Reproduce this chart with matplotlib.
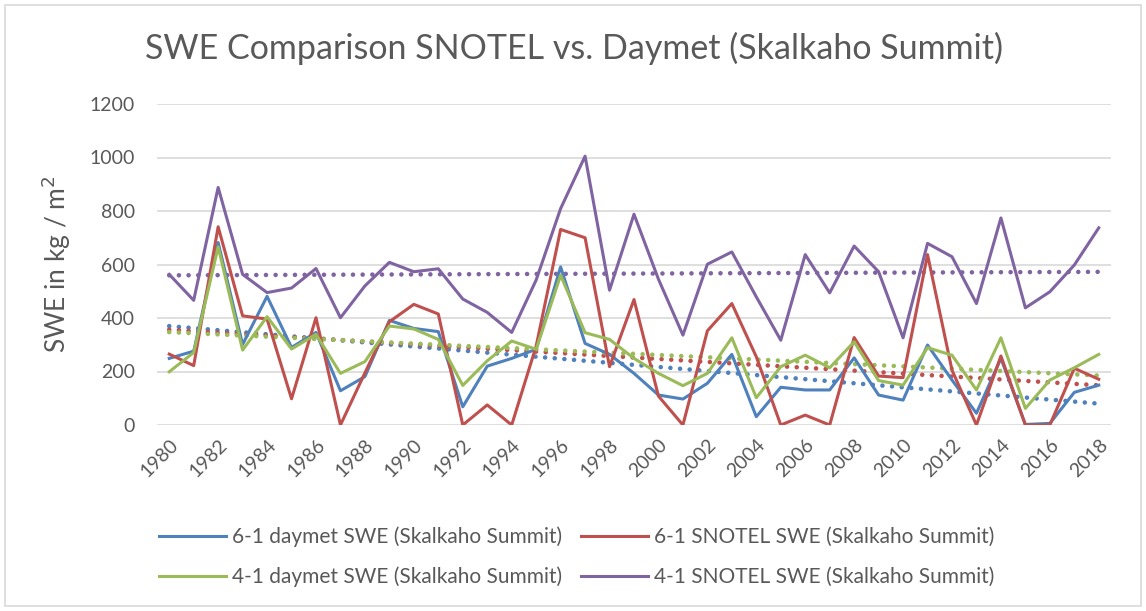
import numpy as np
import matplotlib
matplotlib.use("Agg")
import matplotlib.pyplot as plt
from matplotlib.patches import Rectangle

plt.rcParams['font.family'] = ['Lato', 'DejaVu Sans']

years = list(range(1980, 2019))

# 6-1 daymet SWE
daymet_61 = [249, 276, 682, 301, 481, 290, 346, 128, 181, 391, 361, 349, 68,
             220, 249, 283, 591, 305, 264, 193, 112, 97, 156, 264, 31, 141,
             131, 131, 251, 112, 93, 299, 168, 44, 249, 2, 6, 122, 149]
# 6-1 SNOTEL SWE
snotel_61 = [265, 222, 741, 408, 396, 98, 401, 0, 195, 386, 451, 415, 0,
             75, 0, 295, 731, 700, 218, 469, 108, 0, 352, 454, 255, 0,
             37, 0, 327, 183, 177, 637, 205, 0, 258, 0, 0, 212, 171]
# 4-1 daymet SWE
daymet_41 = [199, 271, 666, 280, 405, 284, 339, 193, 237, 370, 359, 320, 148,
             240, 314, 283, 560, 345, 320, 249, 193, 147, 193, 326, 102, 218,
             261, 214, 311, 166, 149, 289, 261, 131, 326, 62, 168, 214, 264]
# 4-1 SNOTEL SWE
snotel_41 = [563, 466, 888, 563, 495, 512, 585, 401, 520, 608, 573, 584, 471,
             421, 346, 542, 809, 1005, 504, 788, 545, 336, 601, 647, 479, 317,
             637, 494, 669, 573, 326, 679, 629, 454, 774, 438, 498, 598, 737]

labels = ['6-1 daymet SWE (Skalkaho Summit)', '6-1 SNOTEL SWE (Skalkaho Summit)',
          '4-1 daymet SWE (Skalkaho Summit)', '4-1 SNOTEL SWE (Skalkaho Summit)']
series = [daymet_61, snotel_61, daymet_41, snotel_41]
colors = ['#4F81BD', '#C0504D', '#9BBB59', '#8064A2']

grey = '#595959'
fig = plt.figure(figsize=(11.46, 6.11), dpi=100)
ax = fig.add_axes([157 / 1146, 1 - 425 / 611, (1111 - 157) / 1146, (425 - 104) / 611])

x = np.array(years)
handles = []
for vals, col, lab in zip(series, colors, labels):
    h, = ax.plot(x, vals, color=col, lw=2.2, label=lab, zorder=3)
    handles.append(h)
# linear trend lines
for vals, col in zip(series, colors):
    k, b = np.polyfit(x, vals, 1)
    ax.plot(x, k * x + b, color=col, lw=3.3, linestyle=(0, (0.01, 2.1)),
            dash_capstyle='round', zorder=2)

ax.set_xlim(1979.5, 2018.5)
ax.set_ylim(0, 1200)
ax.set_yticks(range(0, 1201, 200))
ax.set_xticks(years[::2])
ax.set_xticklabels([str(y) for y in years[::2]], rotation=45, ha='right',
                   rotation_mode='anchor')
ax.tick_params(axis='both', length=0, labelsize=14, colors=grey)
ax.tick_params(axis='x', pad=8)
ax.tick_params(axis='y', pad=16)
ax.grid(axis='y', color='#D9D9D9', lw=1.2)
ax.set_axisbelow(True)
for s in ax.spines.values():
    s.set_visible(False)

ax.set_ylabel('SWE in kg / m$^2$', fontsize=19, color=grey, labelpad=12)
fig.text(574 / 1146, 1 - 48 / 611, 'SWE Comparison SNOTEL vs. Daymet (Skalkaho Summit)',
         ha='center', va='center', fontsize=24.5, color=grey)

# row-major order: matplotlib fills legend columns first
order = [0, 2, 1, 3]
fig.legend(handles=[handles[i] for i in order], labels=[labels[i] for i in order],
           loc='center', ncol=2,
           bbox_to_anchor=(577 / 1146, 1 - 557 / 611), frameon=False,
           fontsize=15, labelcolor=grey, handlelength=3.2, columnspacing=0.9,
           handletextpad=0.3, labelspacing=0.95)

fig.add_artist(Rectangle((5 / 1146, 5 / 611), 1136 / 1146, 601 / 611,
                         transform=fig.transFigure, fill=False,
                         edgecolor='#D9D9D9', lw=1.2))

fig.savefig('out.png', dpi=100)
